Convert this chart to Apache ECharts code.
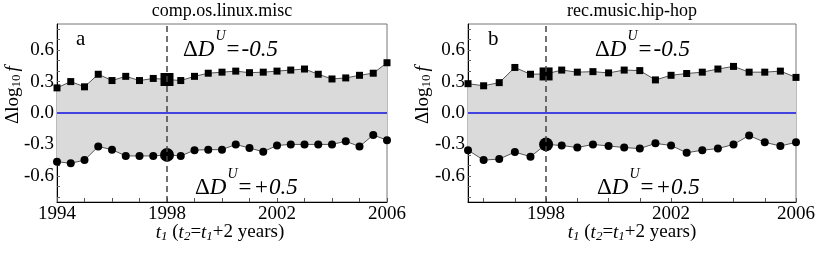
<!DOCTYPE html>
<html><head><meta charset="utf-8">
<script src="https://cdn.jsdelivr.net/npm/echarts@6/dist/echarts.min.js"></script>
<style>html,body{margin:0;padding:0;background:#fff}#c{width:822px;height:253px}</style>
</head><body><div id="c"></div>
<script>
// ---- data ----
const titleA = 'comp.os.linux.misc';
const titleB = 'rec.music.hip-hop';
const yearsA = [1994,1994.5,1995,1995.5,1996,1996.5,1997,1997.5,1998,1998.5,1999,1999.5,2000,2000.5,2001,2001.5,2002,2002.5,2003,2003.5,2004,2004.5,2005,2005.5,2006];
const upperA = [0.24,0.30,0.25,0.37,0.31,0.35,0.31,0.33,0.32,0.31,0.35,0.38,0.39,0.40,0.385,0.39,0.40,0.41,0.42,0.37,0.325,0.335,0.36,0.38,0.48];
const lowerA = [-0.465,-0.48,-0.45,-0.32,-0.35,-0.41,-0.41,-0.41,-0.40,-0.41,-0.355,-0.35,-0.35,-0.30,-0.335,-0.37,-0.31,-0.30,-0.30,-0.30,-0.30,-0.27,-0.32,-0.21,-0.26];
const yearsB = [1995.5,1996,1996.5,1997,1997.5,1998,1998.5,1999,1999.5,2000,2000.5,2001,2001.5,2002,2002.5,2003,2003.5,2004,2004.5,2005,2005.5,2006];
const upperB = [0.28,0.26,0.29,0.435,0.37,0.373,0.41,0.39,0.395,0.383,0.41,0.405,0.316,0.36,0.377,0.39,0.42,0.445,0.39,0.39,0.40,0.34];
const lowerB = [-0.355,-0.45,-0.44,-0.373,-0.417,-0.30,-0.31,-0.33,-0.30,-0.315,-0.33,-0.34,-0.29,-0.31,-0.38,-0.355,-0.34,-0.30,-0.215,-0.28,-0.315,-0.28];
const highlightYear = 1998;
const xLabelsA = [1994,1998,2002,2006];
const xLabelsB = [1998,2002,2006];
const xTicksA = [1994,1995,1996,1997,1998,1999,2000,2001,2002,2003,2004,2005,2006];
const xTicksB = [1996,1997,1998,1999,2000,2001,2002,2003,2004,2005,2006];
const yLabels = [-0.6,-0.3,0.0,0.3,0.6];
const yTicks = [-0.8,-0.7,-0.6,-0.5,-0.4,-0.3,-0.2,-0.1,0,0.1,0.2,0.3,0.4,0.5,0.6,0.7,0.8];
const labelUp = '-0.5';
const labelDown = '+0.5';

// ---- chart ----
const FONT = 'Liberation Serif';
const chart = echarts.init(document.getElementById('c'), null, {renderer:'canvas'});

function pts(xs, ys, big) {
  return xs.map((x,i)=> x===highlightYear ? {value:[x,ys[i]], symbolSize: big} : [x,ys[i]]);
}
function xAxis(idx, min, labels, ticks) {
  return {
    type:'value', gridIndex: idx, min: min, max: 2006,
    axisLine:{show:true, onZero:false, lineStyle:{color:'#000', width:1}},
    axisTick:{show:true, inside:true, length:4, customValues: ticks, lineStyle:{color:'#555'}},
    axisLabel:{customValues: labels, fontFamily: FONT, fontSize:19, color:'#000', margin:3,
      formatter: v => String(Math.round(v))},
    splitLine:{show:false}
  };
}
function yAxis(idx) {
  return {
    type:'value', gridIndex: idx, min:-0.85, max:0.85,
    axisLine:{show:true, onZero:false, lineStyle:{color:'#000', width:1}},
    axisTick:{show:true, inside:true, length:3, customValues: yTicks, lineStyle:{color:'#666'}},
    axisLabel:{customValues: yLabels, fontFamily: FONT, fontSize:19, color:'#000', margin:3,
      formatter: v => v.toFixed(1)},
    splitLine:{show:false}
  };
}
function lineSeries(idx, xs, ys, sym, size, big, withMarks) {
  const s = {
    type:'line', xAxisIndex: idx, yAxisIndex: idx,
    data: pts(xs, ys, big), symbol: sym, symbolSize: size, showAllSymbol:true,
    itemStyle:{color:'#000'}, lineStyle:{color:'#555', width:1},
    areaStyle:{color:'#dadada', opacity:1}, z:3, animation:false
  };
  if (withMarks) {
    s.markLine = { silent:true, symbol:['none','none'], label:{show:false}, animation:false, z:4,
      data:[
        {yAxis:0, lineStyle:{color:'#1010e0', width:1.5, type:'solid'}},
        {xAxis:highlightYear, lineStyle:{color:'#444', width:1.5, type:[6,4]}}
      ]};
  }
  return s;
}
const eqRich = {
  n:{fontFamily:FONT, fontSize:23, fill:'#000', verticalAlign:'bottom'},
  e:{fontFamily:FONT, fontSize:23, fill:'#000', verticalAlign:'bottom', padding:[0,2,0,1]},
  i:{fontFamily:FONT, fontSize:23, fontStyle:'italic', fill:'#000', verticalAlign:'bottom'},
  u:{fontFamily:FONT, fontSize:14, fontStyle:'italic', fill:'#000', verticalAlign:'top', padding:[0,0,18,1]}
};
function eq(x, y, val) {
  return {type:'text', left:x, top:y, z:10, style:{
    text:'{n|Δ}{i|D}{u|U}{e|=}{i|' + val + '}', rich: eqRich }};
}
const ynameRich = {
  d:{fontFamily:FONT, fontSize:19, fill:'#000'},
  s:{fontFamily:FONT, fontSize:13, fill:'#000', verticalAlign:'bottom', padding:[8,0,0,0]},
  f:{fontFamily:FONT, fontSize:19, fontStyle:'italic', fill:'#000', padding:[0,0,0,3]}
};
const yname = '{d|Δlog}{s|10}{f|f}';
const xnameRich = {
  i:{fontFamily:FONT, fontSize:19, fontStyle:'italic', fill:'#000'},
  s:{fontFamily:FONT, fontSize:13, fontStyle:'italic', fill:'#000', verticalAlign:'bottom', padding:[8,0,0,0]},
  n:{fontFamily:FONT, fontSize:19, fill:'#000'}
};
const xname = '{i|t}{s|1}{n| (}{i|t}{s|2}{n|=}{i|t}{s|1}{n|+2 years)}';

chart.setOption({
  animation:false,
  grid:[
    {left:57, top:24, width:330, height:178, show:true, borderColor:'#777', borderWidth:1},
    {left:468, top:24, width:328, height:178, show:true, borderColor:'#777', borderWidth:1}
  ],
  xAxis:[xAxis(0,1994,xLabelsA,xTicksA), xAxis(1,1995.5,xLabelsB,xTicksB)],
  yAxis:[yAxis(0), yAxis(1)],
  series:[
    lineSeries(0, yearsA, upperA, 'rect', 7, 13, true),
    lineSeries(0, yearsA, lowerA, 'circle', 8, 14, false),
    lineSeries(1, yearsB, upperB, 'rect', 7, 13, true),
    lineSeries(1, yearsB, lowerB, 'circle', 8, 14, false)
  ],
  graphic:[
    {type:'text', x:222, y:2, z:10, style:{text:titleA, fontFamily:FONT, fontSize:18, fill:'#000', align:'center'}},
    {type:'text', x:632, y:2, z:10, style:{text:titleB, fontFamily:FONT, fontSize:18, fill:'#000', align:'center'}},
    {type:'text', x:76, y:29, z:10, style:{text:'a', fontFamily:FONT, fontSize:21, fill:'#000'}},
    {type:'text', x:488, y:29, z:10, style:{text:'b', fontFamily:FONT, fontSize:21, fill:'#000'}},
    eq(183, 29, labelUp),
    eq(195, 167, labelDown),
    eq(595, 29, labelUp),
    eq(597, 167, labelDown),
    {type:'text', x:13, y:95, rotation:Math.PI/2, z:10, style:{text:yname, rich:ynameRich, align:'center', verticalAlign:'middle'}},
    {type:'text', x:423, y:95, rotation:Math.PI/2, z:10, style:{text:yname, rich:ynameRich, align:'center', verticalAlign:'middle'}},
    {type:'text', x:220, y:222, z:10, style:{text:xname, rich:xnameRich, align:'center'}},
    {type:'text', x:632, y:222, z:10, style:{text:xname, rich:xnameRich, align:'center'}}
  ]
});
</script></body></html>
